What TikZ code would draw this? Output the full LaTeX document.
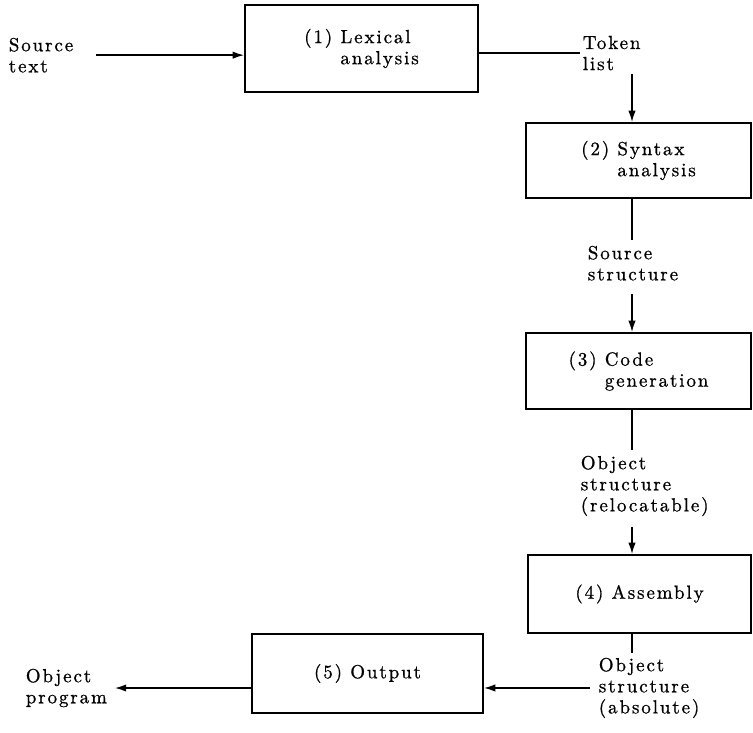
\documentclass[tikz,border=0pt]{standalone}
\usepackage{fontspec}
\setmainfont{lmroman10-regular.otf}[LetterSpace=10, FakeBold=0.8]
\usetikzlibrary{arrows.meta, positioning}

\newcommand{\stagetext}[3]{(#1)~#2\\\hphantom{(#1)~}#3}

\begin{document}
\begin{tikzpicture}[>={Latex[length=6.5pt,width=4.2pt]}, line width=0.95pt,
    font=\fontsize{10.8}{12}\selectfont,
    box/.style={draw, align=left, inner sep=0pt},
    lbl/.style={align=left, inner sep=0pt, anchor=north west}]
  \useasboundingbox (0,0) rectangle (15.06,14.66);

  % Nodes
  \node[box, minimum width=4.66cm, minimum height=1.74cm] (lex) at (7.23,13.69) {\stagetext{1}{Lexical}{analysis}};
  \node[box, minimum width=4.5cm, minimum height=1.5cm] (syn) at (12.77,11.45) {\stagetext{2}{Syntax}{analysis}};
  \node[box, minimum width=4.5cm, minimum height=1.52cm] (code) at (12.77,7.24) {\stagetext{3}{Code}{generation}};
  \node[box, minimum width=4.46cm, minimum height=1.56cm] (asm) at (12.79,2.78) {(4)~Assembly};
  \node[box, minimum width=4.62cm, minimum height=1.58cm] (out) at (7.35,1.19) {(5)~Output};

  \node[lbl] (src) at (0.16,13.92) {Source\\text};
  \node[lbl] (tok) at (11.64,13.96) {Token\\list};
  \node[lbl] (srcst) at (11.74,9.76) {Source\\structure};
  \node[lbl] (relst) at (11.60,5.56) {Object\\structure\\(relocatable)};
  \node[lbl] (absst) at (11.96,1.52) {Object\\structure\\(absolute)};
  \node[lbl] (prog) at (0.50,1.30) {Object\\program};

  \coordinate (col) at (12.64,0);

  % Edges
  \path[->] (src.east) edge[shorten <=0.44cm] (src.east -| lex.west)
            (tok.south -| col) edge[shorten <=0.06cm] (syn.north -| col)
            (srcst.south -| col) edge[shorten <=0.26cm] (code.north -| col)
            (relst.south -| col) edge[shorten <=0.2cm] (asm.north -| col)
            (absst.west) edge[shorten <=0.16cm] (absst.west -| out.east)
            (out.west |- prog.east) edge[shorten >=0.14cm] (prog.east);
  \path[draw] (lex.east |- tok.west) edge[shorten >=0.04cm] (tok.west)
            (syn.south -| col) edge[shorten >=0.1cm] (srcst.north -| col)
            (code.south -| col) edge[shorten >=0.1cm] (relst.north -| col)
            (asm.south -| col) edge[shorten >=0.08cm] (absst.north -| col);

\end{tikzpicture}
\end{document}
